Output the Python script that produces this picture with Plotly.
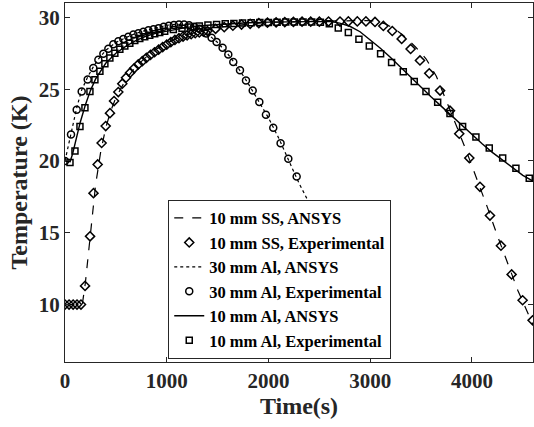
import plotly.graph_objects as go

# ---------------- data ----------------
# 10 mm SS, ANSYS (dashed)
ss_ansys_t = [0, 170, 200, 250, 300, 350, 400, 450, 500, 600, 700, 800, 900, 1000, 1100, 1200, 1300, 1400,
              1600, 1800, 2000, 2400, 2800, 2950, 3050, 3150, 3250, 3350, 3450, 3550, 3650, 3750, 3850,
              3950, 4050, 4150, 4250, 4350, 4450, 4550, 4600]
ss_ansys_T = [10.0, 10.0, 11.5, 15.0, 18.3, 20.6, 22.3, 23.5, 24.4, 25.7, 26.6, 27.25, 27.8, 28.2, 28.55, 28.8,
              29.0, 29.15, 29.4, 29.55, 29.65, 29.72, 29.78, 29.78, 29.75, 29.55, 29.15, 28.6, 27.9, 27.1,
              25.9, 24.2, 22.4, 20.6, 18.75, 16.8, 14.8, 12.85, 11.0, 9.4, 8.6]

# 10 mm SS, Experimental (diamonds)
ss_exp_t = [0, 40, 80, 118, 157, 197, 246, 280, 321, 360, 400, 442, 482, 524, 563, 600, 640, 680, 720, 760,
            800, 840, 880, 920, 960, 1000, 1040, 1080, 1120, 1160, 1200, 1240, 1280, 1320, 1360, 1400,
            1480, 1565, 1650, 1735, 1820, 1905, 1990, 2075, 2160, 2245, 2330, 2415, 2500, 2590, 2703,
            2785, 2873, 2958, 3047, 3129, 3217, 3309, 3397, 3489, 3580, 3686, 3784, 3875, 3974, 4079,
            4177, 4285, 4390, 4498, 4596]
ss_exp_T = [10.0, 10.0, 10.0, 10.0, 10.0, 11.3, 14.75, 17.76, 19.76, 21.25, 22.43, 23.33, 24.17, 24.8, 25.38,
            25.8, 26.15, 26.45, 26.72, 26.95, 27.18, 27.38, 27.57, 27.75, 27.93, 28.1, 28.27, 28.43, 28.55,
            28.66, 28.75, 28.83, 28.9, 28.95, 29.0, 29.05, 29.2, 29.32, 29.42, 29.5, 29.55, 29.6, 29.63,
            29.65, 29.67, 29.68, 29.7, 29.7, 29.7, 29.71, 29.71, 29.72, 29.72, 29.72, 29.68, 29.4, 29.05,
            28.5, 27.8, 27.0, 26.1, 24.9, 23.5, 21.9, 20.2, 18.2, 16.2, 14.1, 12.1, 10.3, 8.9]

# 30 mm Al, ANSYS (dotted)
al30_ansys_t = [0, 25, 59, 115, 164, 223, 278, 328, 400, 500, 600, 700, 800, 900, 1000, 1100, 1200, 1300,
                1400, 1500, 1600, 1700, 1800, 1900, 2000, 2100, 2200, 2300, 2420]
al30_ansys_T = [20.0, 20.8, 22.0, 23.7, 24.95, 25.85, 26.55, 27.1, 27.7, 28.25, 28.6, 28.9, 29.1, 29.3, 29.45,
                29.52, 29.5, 29.3, 28.85, 28.25, 27.45, 26.5, 25.4, 24.2, 23.0, 21.6, 20.05, 18.45, 16.8]

# 30 mm Al, Experimental (circles)
al30_exp_t = [0, 59, 115, 164, 223, 278, 328, 377, 426, 475, 524, 573, 622, 672, 721, 770, 820, 870, 920,
              970, 1020, 1070, 1120, 1170, 1220, 1270, 1320, 1390, 1441, 1490, 1549, 1605, 1654, 1720, 1779,
              1845, 1910, 1975, 2047, 2119, 2195, 2277]
al30_exp_T = [20.0, 21.85, 23.57, 24.84, 25.68, 26.47, 27.05, 27.47, 27.82, 28.12, 28.33, 28.5, 28.65, 28.8,
              28.9, 29.0, 29.1, 29.18, 29.25, 29.35, 29.42, 29.47, 29.5, 29.5, 29.45, 29.35, 29.2, 28.88,
              28.58, 28.28, 27.89, 27.42, 26.89, 26.31, 25.61, 24.91, 24.1, 23.22, 22.31, 21.24, 20.15, 18.92]

# 10 mm Al, ANSYS (solid)
al10_ansys_t = [0, 50, 75, 100, 150, 200, 250, 300, 350, 400, 500, 600, 700, 800, 900, 1000, 1200, 1400,
                1600, 1800, 2000, 2300, 2600, 2700, 2800, 2900, 3000, 3100, 3200, 3300, 3400, 3500, 3600,
                3700, 3800, 3900, 4000, 4100, 4200, 4300, 4400, 4500, 4600]
al10_ansys_T = [20.0, 19.95, 20.5, 21.3, 22.7, 23.9, 24.9, 25.7, 26.3, 26.8, 27.5, 28.0, 28.4, 28.7, 28.9,
                29.05, 29.3, 29.45, 29.55, 29.62, 29.67, 29.72, 29.72, 29.6, 29.38, 29.0, 28.45, 27.85, 27.2,
                26.5, 25.85, 25.15, 24.45, 23.8, 23.15, 22.45, 21.8, 21.2, 20.6, 20.05, 19.5, 19.0, 18.6]

# 10 mm Al, Experimental (squares)
al10_exp_t = [49, 98, 147, 196, 245, 294, 343, 392, 441, 490, 539, 588, 637, 686, 735, 784, 833, 882, 931,
              980, 1065, 1150, 1235, 1320, 1405, 1490, 1575, 1660, 1745, 1830, 1915, 2000, 2085, 2170, 2255,
              2340, 2425, 2510, 2598, 2686, 2785, 2889, 2991, 3102, 3210, 3325, 3433, 3548, 3663, 3784,
              3908, 4039, 4170, 4302, 4432, 4563]
al10_exp_T = [19.9, 20.7, 22.4, 23.7, 24.84, 25.66, 26.24, 26.77, 27.17, 27.5, 27.78, 28.0, 28.2, 28.38,
              28.52, 28.65, 28.76, 28.86, 28.95, 29.03, 29.15, 29.25, 29.33, 29.4, 29.46, 29.5, 29.55, 29.58,
              29.6, 29.62, 29.64, 29.65, 29.66, 29.67, 29.68, 29.68, 29.68, 29.66, 29.56, 29.26, 28.95,
              28.47, 28.0, 27.47, 26.86, 26.22, 25.54, 24.84, 24.08, 23.31, 22.4, 21.66, 20.9, 20.2, 19.5, 18.8]

x_ticks = [0, 1000, 2000, 3000, 4000]
y_ticks = [10, 15, 20, 25, 30]

# ---------------- figure ----------------
FONT = "Times New Roman, Liberation Serif, Tinos, serif"
BLACK = "#000000"
AX = "#262626"

fig = go.Figure()
fig.add_trace(go.Scatter(x=ss_ansys_t, y=ss_ansys_T, mode="lines", name="10 mm SS, ANSYS",
                         line=dict(color=BLACK, width=1.2, dash="dash")))
fig.add_trace(go.Scatter(x=ss_exp_t, y=ss_exp_T, mode="markers", name="10 mm SS, Experimental",
                         marker=dict(symbol="diamond-open", size=7, color=BLACK, line=dict(width=1.5))))
fig.add_trace(go.Scatter(x=al30_ansys_t, y=al30_ansys_T, mode="lines", name="30 mm Al, ANSYS",
                         line=dict(color=BLACK, width=1.2, dash="dot")))
fig.add_trace(go.Scatter(x=al30_exp_t, y=al30_exp_T, mode="markers", name="30 mm Al, Experimental",
                         marker=dict(symbol="circle-open", size=7, color=BLACK, line=dict(width=1.5))))
fig.add_trace(go.Scatter(x=al10_ansys_t, y=al10_ansys_T, mode="lines", name="10 mm Al, ANSYS",
                         line=dict(color=BLACK, width=1.4)))
fig.add_trace(go.Scatter(x=al10_exp_t, y=al10_exp_T, mode="markers", name="10 mm Al, Experimental",
                         marker=dict(symbol="square-open", size=6, color=BLACK, line=dict(width=1.5))))

axis_common = dict(
    showline=True, linecolor=AX, linewidth=1, mirror="ticks",
    ticks="inside", ticklen=5, tickcolor=AX, tickwidth=1,
    showgrid=False, zeroline=False, automargin=False,
    tickfont=dict(family=FONT, size=21, color=AX, weight="bold"),
)

fig.update_layout(
    width=534, height=427,
    margin=dict(l=65, r=1, t=3, b=65),
    paper_bgcolor="white", plot_bgcolor="white",
    font=dict(family=FONT, color=AX, weight="bold"),
    xaxis=dict(range=[0, 4600], tickvals=x_ticks,
               title=dict(text="Time(s)", font=dict(family=FONT, size=24, color=AX, weight="bold"),
                          standoff=4),
               **axis_common),
    yaxis=dict(range=[6, 31], tickvals=y_ticks,
               title=dict(text="Temperature (K)", font=dict(family=FONT, size=24, color=AX, weight="bold"),
                          standoff=4),
               **axis_common),
    legend=dict(x=0.2206, y=0.452, xanchor="left", yanchor="top",
                bgcolor="white", bordercolor=AX, borderwidth=1,
                font=dict(family=FONT, size=16.5, color=BLACK, weight="bold"),
                tracegroupgap=0, itemwidth=30),
    showlegend=True,
)

fig.write_html("out.html", config={"displayModeBar": False},
               post_script="document.body.style.margin='0';")
